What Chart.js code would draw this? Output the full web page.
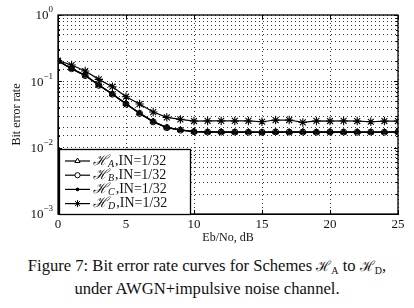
<!DOCTYPE html>
<html>
<head>
<meta charset="utf-8">
<script src="https://cdn.jsdelivr.net/npm/chart.js@4/dist/chart.umd.min.js"></script>
<style>
  html, body { margin: 0; padding: 0; background: #fff; }
  body { width: 414px; height: 308px; overflow: hidden; }
  #c { display: block; }
  .cap { font-family: 'Liberation Serif', 'DejaVu Serif', serif; font-size: 16.6px; line-height: 23px; text-align: center; color: #111; margin-top: 9px; }
  .cap i { font-family: 'DejaVu Serif', serif; font-style: normal; font-size: 14px; line-height: 0; }
  .cap sub { font-size: 10px; vertical-align: -3px; line-height: 0; }
</style>
</head>
<body>
<canvas id="c" width="414" height="245"></canvas>
<div class="cap">Figure 7: Bit error rate curves for Schemes <i>ℋ</i><sub>A</sub> to <i>ℋ</i><sub>D</sub>,<br>under AWGN+impulsive noise channel.</div>
<script>
// ---- data ----
const ebno = [0,1,2,3,4,5,6,7,8,9,10,11,12,13,14,15,16,17,18,19,20,21,22,23,24,25];
const berA = [0.205,0.156,0.123,0.088,0.064,0.046,0.033,0.0248,0.0202,0.0185,0.0175,0.0172,0.0173,0.0171,0.0172,0.0170,0.0172,0.0171,0.0173,0.0171,0.0172,0.0171,0.0172,0.0171,0.0172,0.0173];
const berB = [0.203,0.155,0.122,0.087,0.064,0.0455,0.0328,0.0245,0.0200,0.0184,0.0174,0.0172,0.0172,0.0172,0.0171,0.0171,0.0173,0.0172,0.0172,0.0171,0.0173,0.0172,0.0171,0.0172,0.0171,0.0172];
const berC = [0.204,0.154,0.123,0.088,0.065,0.046,0.0332,0.0247,0.0201,0.0185,0.0175,0.0173,0.0172,0.0172,0.0172,0.0171,0.0172,0.0172,0.0171,0.0172,0.0172,0.0173,0.0172,0.0172,0.0172,0.0172];
const berD = [0.206,0.176,0.143,0.107,0.083,0.0586,0.0455,0.0344,0.0286,0.0267,0.0252,0.0253,0.0253,0.0253,0.0253,0.0246,0.0261,0.0261,0.0240,0.0253,0.0252,0.0253,0.0252,0.0246,0.0252,0.0252];
const seriesNames = ['A','B','C','D'];
const legendSuffix = ',IN=1/32';
const xTicks = [0,5,10,15,20,25];
const yTickExp = [0,-1,-2,-3];
const xTitle = 'Eb/No, dB';
const yTitle = 'Bit error rate';

const SERIF = "'Liberation Serif', 'DejaVu Serif', serif";
const toXY = arr => arr.map((v, i) => ({x: ebno[i], y: v}));

const styles = [
  {pointStyle: 'triangle', pointRadius: 3.5, pointBackgroundColor: '#111', pointBorderWidth: 1},
  {pointStyle: 'circle', pointRadius: 3, pointBackgroundColor: 'rgba(0,0,0,0)', pointBorderWidth: 1},
  {pointStyle: 'circle', pointRadius: 1.6, pointBackgroundColor: '#000', pointBorderWidth: 1},
  {pointStyle: 'star', pointRadius: 4.2, pointBackgroundColor: '#000', pointBorderWidth: 1.1}
];
const dataArrays = [berA, berB, berC, berD];
const datasets = dataArrays.map((arr, i) => Object.assign({
  label: 'H' + seriesNames[i] + legendSuffix,
  data: toXY(arr),
  borderColor: '#000',
  pointBorderColor: '#000',
  borderWidth: 1.2,
  tension: 0,
  fill: false
}, styles[i]));

const decor = {
  id: 'decor',
  afterDatasetsDraw(chart) {
    const ctx = chart.ctx, a = chart.chartArea;
    const xs = chart.scales.x, ys = chart.scales.y;
    ctx.save();
    // frame
    ctx.strokeStyle = '#000'; ctx.lineWidth = 1.3; ctx.setLineDash([]);
    ctx.strokeRect(a.left, a.top, a.right - a.left, a.bottom - a.top);
    // inward ticks
    ctx.lineWidth = 1;
    ctx.beginPath();
    xTicks.forEach(v => {
      const px = Math.round(xs.getPixelForValue(v)) + 0.5;
      ctx.moveTo(px, a.bottom); ctx.lineTo(px, a.bottom - 4);
      ctx.moveTo(px, a.top); ctx.lineTo(px, a.top + 4);
    });
    ys.ticks.forEach(t => {
      const py = Math.round(ys.getPixelForValue(t.value)) + 0.5;
      const major = Math.abs(Math.log10(t.value) - Math.round(Math.log10(t.value))) < 1e-6;
      const len = major ? 4 : 2;
      ctx.moveTo(a.left, py); ctx.lineTo(a.left + len, py);
      ctx.moveTo(a.right, py); ctx.lineTo(a.right - len, py);
    });
    ctx.stroke();
    // y tick labels with superscripts
    ctx.fillStyle = '#111';
    ctx.textBaseline = 'middle';
    yTickExp.forEach(e => {
      const py = ys.getPixelForValue(Math.pow(10, e));
      const sup = e === 0 ? '0' : '\u2212' + Math.abs(e);
      ctx.font = '13px ' + SERIF;
      const wb = ctx.measureText('10').width;
      ctx.font = '9px ' + SERIF;
      const ws = ctx.measureText(sup).width;
      const xr = a.left - 5;
      ctx.font = '13px ' + SERIF;
      ctx.textAlign = 'left';
      ctx.fillText('10', xr - wb - ws, py + 1);
      ctx.font = '9px ' + SERIF;
      ctx.fillText(sup, xr - ws, py - 5);
    });
    // legend box
    const lx = 59, ly = 149, lw = 131, lh = 65;
    ctx.fillStyle = '#fff';
    ctx.fillRect(lx, ly, lw, lh);
    ctx.strokeStyle = '#000'; ctx.lineWidth = 1.3;
    ctx.strokeRect(lx + 0.5, ly + 0.5, lw, lh);
    const legendStyles = [
      {pointStyle: 'triangle', radius: 3, fill: false},
      {pointStyle: 'circle', radius: 2.6, fill: false},
      {pointStyle: 'circle', radius: 1.4, fill: true},
      {pointStyle: 'star', radius: 3.5, fill: true}
    ];
    datasets.forEach((ds, i) => {
      const y = ly + 12 + i * 14.2;
      ctx.strokeStyle = '#000'; ctx.lineWidth = 1.2;
      ctx.beginPath(); ctx.moveTo(65, y); ctx.lineTo(90, y); ctx.stroke();
      const st = legendStyles[i];
      ctx.fillStyle = st.fill ? '#000' : '#fff';
      ctx.lineWidth = 1;
      Chart.helpers.drawPoint(ctx, {pointStyle: st.pointStyle, radius: st.radius, rotation: 0, borderWidth: 1}, 77.5, y);
      if (st.fill) ctx.fill();
      // label: script H with italic subscript, then suffix
      ctx.fillStyle = '#111';
      ctx.textAlign = 'left'; ctx.textBaseline = 'middle';
      let tx = 93;
      ctx.font = 'italic 14px ' + "'DejaVu Serif', serif";
      ctx.fillText('\u210B', tx, y);
      tx += ctx.measureText('\u210B').width;
      ctx.font = 'italic 10px ' + SERIF;
      ctx.fillText(seriesNames[i], tx, y + 3);
      tx += ctx.measureText(seriesNames[i]).width + 1;
      ctx.font = '14px ' + SERIF;
      ctx.fillText(legendSuffix, tx, y);
    });
    ctx.restore();
  }
};

new Chart(document.getElementById('c'), {
  type: 'line',
  data: { datasets },
  options: {
    responsive: false,
    animation: false,
    layout: { padding: { top: 15, right: 16, left: 0, bottom: 0 } },
    plugins: { legend: { display: false }, tooltip: { enabled: false } },
    scales: {
      x: {
        type: 'linear', min: 0, max: 25,
        afterBuildTicks: s => { s.ticks = xTicks.map(v => ({value: v})); },
        afterFit: s => { s.height = 31; },
        ticks: { color: '#111', font: { family: SERIF, size: 13 }, padding: 3, maxRotation: 0 },
        grid: { color: '#333', lineWidth: 1, drawTicks: false },
        border: { color: '#000', dash: [1, 3] },
        title: { display: true, text: xTitle, color: '#111', font: { family: SERIF, size: 12 }, padding: { top: -4, bottom: 0 } }
      },
      y: {
        type: 'logarithmic', min: 0.001, max: 1,
        afterFit: s => { s.width = 58; },
        ticks: { display: false },
        grid: { color: '#333', lineWidth: 1, drawTicks: false },
        border: { color: '#000', dash: [1, 3] },
        title: { display: true, text: yTitle, color: '#111', font: { family: SERIF, size: 12 }, padding: { top: 10, bottom: 0 } }
      }
    }
  },
  plugins: [decor]
});
</script>
</body>
</html>
